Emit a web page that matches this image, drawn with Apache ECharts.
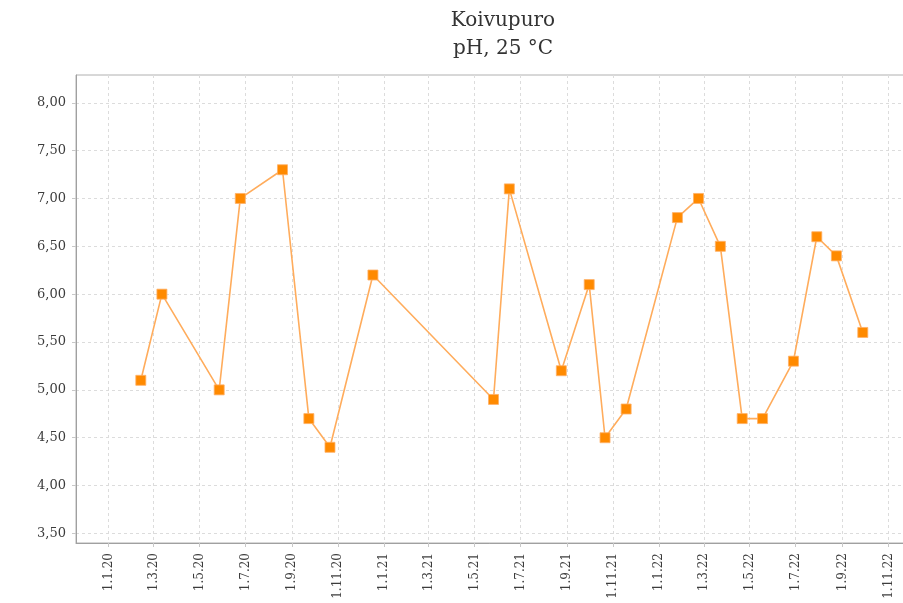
<!DOCTYPE html>
<html>
<head>
<meta charset="utf-8">
<script src="https://cdn.jsdelivr.net/npm/echarts@6/dist/echarts.min.js"></script>
<style>
  html, body { margin: 0; padding: 0; background: #fff; }
  #chart { width: 903px; height: 603px; }
</style>
</head>
<body>
<div id="chart"></div>
<script>
// measurement dates (y, m, d) and pH values
const sampleDates = [
  [2020, 2, 13], [2020, 3, 12], [2020, 5, 27], [2020, 6, 24], [2020, 8, 19],
  [2020, 9, 23], [2020, 10, 21], [2020, 12, 17], [2021, 5, 26], [2021, 6, 16],
  [2021, 8, 24], [2021, 9, 30], [2021, 10, 21], [2021, 11, 18], [2022, 1, 25],
  [2022, 2, 22], [2022, 3, 23], [2022, 4, 21], [2022, 5, 18], [2022, 6, 28],
  [2022, 7, 29], [2022, 8, 24], [2022, 9, 28]
]
const phValues = [
  5.1, 6.0, 5.0, 7.0, 7.3, 4.7, 4.4, 6.2, 4.9, 7.1,
  5.2, 6.1, 4.5, 4.8, 6.8, 7.0, 6.5, 4.7, 4.7, 5.3,
  6.6, 6.4, 5.6
]
const xTickDates = [
  [2020, 1, 1], [2020, 3, 1], [2020, 5, 1], [2020, 7, 1], [2020, 9, 1], [2020, 11, 1],
  [2021, 1, 1], [2021, 3, 1], [2021, 5, 1], [2021, 7, 1], [2021, 9, 1], [2021, 11, 1],
  [2022, 1, 1], [2022, 3, 1], [2022, 5, 1], [2022, 7, 1], [2022, 9, 1], [2022, 11, 1]
]
const yTicks = [3.5, 4.0, 4.5, 5.0, 5.5, 6.0, 6.5, 7.0, 7.5, 8.0]

// dates become plain millisecond numbers on a value axis
const toTime = (d) => new Date(d[0], d[1] - 1, d[2]).getTime()

const chart = echarts.init(document.getElementById('chart'))

const labelFont = 'DejaVu Serif'

chart.setOption({
  animation: false,
  backgroundColor: '#fff',
  title: {
    text: 'Koivupuro\npH, 25 °C',
    left: 498,
    textAlign: 'center',
    top: 2,
    textStyle: {
      fontFamily: labelFont,
      fontWeight: 'normal',
      fontSize: 20,
      lineHeight: 28,
      color: '#333'
    }
  },
  grid: {
    left: 76,
    right: -5,
    top: 75,
    bottom: 60,
    outerBoundsMode: 'none',
    show: true,
    borderColor: '#b0b0b0',
    borderWidth: 1
  },
  xAxis: {
    type: 'value',
    min: toTime([2019, 11, 19]),
    max: toTime([2022, 11, 27]),
    axisLine: { show: true, lineStyle: { color: '#a0a0a0' } },
    axisTick: {
      show: true,
      length: 4,
      customValues: xTickDates.map(toTime),
      lineStyle: { color: '#c8c8c8' }
    },
    axisLabel: {
      customValues: xTickDates.map(toTime),
      rotate: 90,
      margin: 10,
      fontFamily: labelFont,
      fontSize: 12,
      color: '#3c3c3c',
      formatter: (v) => {
        const d = new Date(v)
        return d.getDate() + '.' + (d.getMonth() + 1) + '.' + String(d.getFullYear()).slice(2)
      }
    },
    splitLine: {
      show: true,
      lineStyle: { color: '#dcdcdc', type: [3, 3] }
    }
  },
  yAxis: {
    type: 'value',
    min: 3.4,
    max: 8.29,
    axisLine: { show: true, lineStyle: { color: '#a0a0a0' } },
    axisTick: {
      show: true,
      length: 4,
      customValues: yTicks,
      lineStyle: { color: '#c8c8c8' }
    },
    axisLabel: {
      customValues: yTicks,
      margin: 10,
      fontFamily: labelFont,
      fontSize: 13,
      color: '#3c3c3c',
      formatter: (v) => v.toFixed(2).replace('.', ',')
    },
    splitLine: {
      show: true,
      lineStyle: { color: '#dcdcdc', type: [3, 3] }
    }
  },
  series: [
    {
      type: 'line',
      data: sampleDates.map((d, i) => [toTime(d), phValues[i]]),
      symbol: 'rect',
      symbolSize: 10,
      lineStyle: { color: '#ffac5c', width: 1.6 },
      itemStyle: { color: '#ff8a00', borderColor: '#ffb066', borderWidth: 0.8 }
    }
  ]
})
</script>
</body>
</html>
